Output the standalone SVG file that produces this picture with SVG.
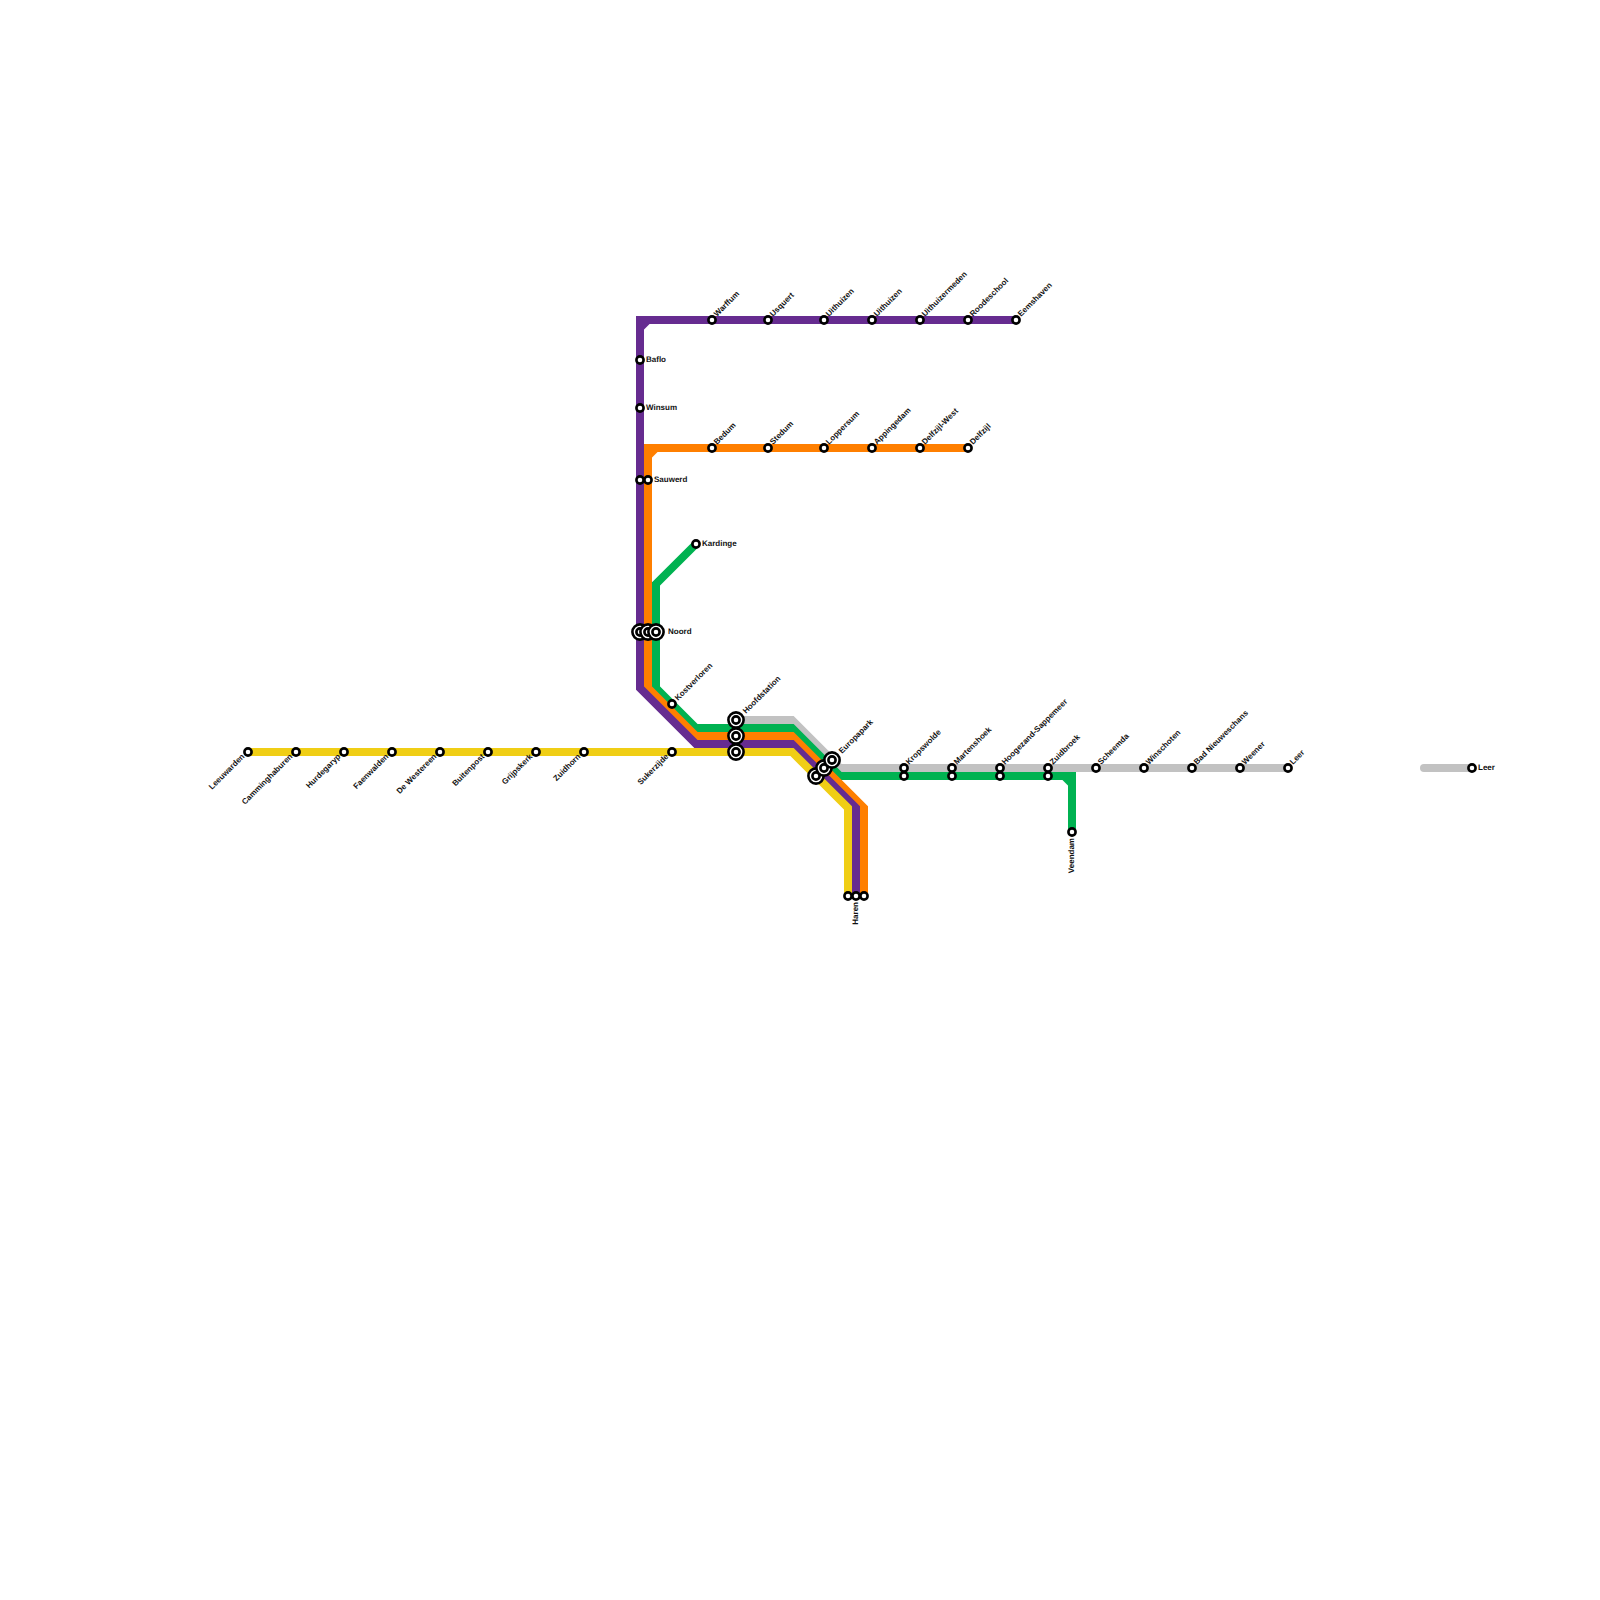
<svg xmlns="http://www.w3.org/2000/svg" width="1600" height="1600" viewBox="0 0 1600 1600">
<defs><style>
.l{fill:none;stroke-width:8;stroke-linejoin:miter;stroke-linecap:butt}
.r{stroke-linecap:round}
.grey{stroke:#c2c2c2}.green{stroke:#00b251}.orange{stroke:#ff7f00}.purple{stroke:#662c90}.yellow{stroke:#f0ce15}
.s{fill:#fff;stroke:#000;stroke-width:2.6}
.t{font-family:"Liberation Sans",Arial,sans-serif;font-size:8px;font-weight:700;fill:#111;text-rendering:geometricPrecision}
.e{text-anchor:end}
</style>
<g id="st"><circle class="s" r="3.6"/></g>
<g id="ix"><circle class="s" r="7.6"/><circle class="s" r="3.6"/></g>
</defs>
<rect width="1600" height="1600" fill="#fff"/>
<g id="connectors">
<path class="l r grey" d="M736 720H792L840 768H1288"/>
<path class="l r grey" d="M1424 768H1472"/>
<path class="l green" d="M696 544L656 584V688L696 728H792L840 776H1072V832"/>
<path class="l green" d="M1064 776L1072 784"/>
<path class="l orange" d="M648 456L656 448"/>
<path class="l orange" d="M968 448H648V688L696 736H792L864 808V896"/>
<path class="l purple" d="M648 320L640 328"/>
<path class="l purple" d="M1016 320H640V688L696 744H792L856 808V896"/>
<path class="l yellow" d="M248 752H792L848 808V896"/>
</g>
<g id="n-leeuwarden"><use href="#st" x="248" y="752"/><text class="t e" transform="translate(245 757) rotate(-45)">Leeuwarden</text></g>
<g id="n-camminghaburen"><use href="#st" x="296" y="752"/><text class="t e" transform="translate(293 757) rotate(-45)">Camminghaburen</text></g>
<g id="n-hurdegaryp"><use href="#st" x="344" y="752"/><text class="t e" transform="translate(341 757) rotate(-45)">Hurdegaryp</text></g>
<g id="n-feanwalden"><use href="#st" x="392" y="752"/><text class="t e" transform="translate(389 757) rotate(-45)">Faenwalden</text></g>
<g id="n-de-westereen"><use href="#st" x="440" y="752"/><text class="t e" transform="translate(437 757) rotate(-45)">De Westereen</text></g>
<g id="n-buitenpost"><use href="#st" x="488" y="752"/><text class="t e" transform="translate(485 757) rotate(-45)">Buitenpost</text></g>
<g id="n-grijpskerk"><use href="#st" x="536" y="752"/><text class="t e" transform="translate(533 757) rotate(-45)">Grijpskerk</text></g>
<g id="n-zuidhorn"><use href="#st" x="584" y="752"/><text class="t e" transform="translate(581 757) rotate(-45)">Zuidhorn</text></g>
<g id="n-sukerzijde"><use href="#st" x="672" y="752"/><text class="t e" transform="translate(669 757) rotate(-45)">Sukerzijde</text></g>
<g id="n-baflo"><use href="#st" x="640" y="360"/><text class="t" x="646" y="362">Baflo</text></g>
<g id="n-winsum"><use href="#st" x="640" y="408"/><text class="t" x="646" y="410">Winsum</text></g>
<g id="n-sauwerd"><use href="#st" x="640" y="480"/><use href="#st" x="648" y="480"/><text class="t" x="654" y="482">Sauwerd</text></g>
<g id="n-kardinge"><use href="#st" x="696" y="544"/><text class="t" x="702" y="546">Kardinge</text></g>
<g id="n-noord"><use href="#ix" x="640" y="632"/><use href="#ix" x="648" y="632"/><use href="#ix" x="656" y="632"/><text class="t" x="668" y="634">Noord</text></g>
<g id="n-kostverloren"><use href="#st" x="672" y="704"/><text class="t" transform="translate(678 701) rotate(-45)">Kostverloren</text></g>
<g id="n-hoofdstation"><use href="#ix" x="736" y="720"/><use href="#ix" x="736" y="736"/><use href="#ix" x="736" y="752"/><text class="t" transform="translate(746 714) rotate(-45)">Hoofdstation</text></g>
<g id="n-europapark"><use href="#ix" x="816" y="776"/><use href="#ix" x="824" y="768"/><use href="#ix" x="832" y="760"/><text class="t" transform="translate(842 754) rotate(-45)">Europapark</text></g>
<g id="n-haren"><use href="#st" x="848" y="896"/><use href="#st" x="856" y="896"/><use href="#st" x="864" y="896"/><text class="t e" transform="translate(858 902) rotate(-90)">Haren</text></g>
<g id="n-veendam"><use href="#st" x="1072" y="832"/><text class="t e" transform="translate(1074 838) rotate(-90)">Veendam</text></g>
<g id="n-warffum"><use href="#st" x="712" y="320"/><text class="t" transform="translate(717 317) rotate(-45)">Warffum</text></g>
<g id="n-usquert"><use href="#st" x="768" y="320"/><text class="t" transform="translate(773 317) rotate(-45)">Usquert</text></g>
<g id="n-uithuizen"><use href="#st" x="824" y="320"/><text class="t" transform="translate(829 317) rotate(-45)">Uithuizen</text></g>
<g id="n-uithuizen2"><use href="#st" x="872" y="320"/><text class="t" transform="translate(877 317) rotate(-45)">Uithuizen</text></g>
<g id="n-uithuizermeeden"><use href="#st" x="920" y="320"/><text class="t" transform="translate(925 317) rotate(-45)">Uithuizermeden</text></g>
<g id="n-roodeschool"><use href="#st" x="968" y="320"/><text class="t" transform="translate(973 317) rotate(-45)">Roodeschool</text></g>
<g id="n-eemshaven"><use href="#st" x="1016" y="320"/><text class="t" transform="translate(1021 317) rotate(-45)">Eemshaven</text></g>
<g id="n-bedum"><use href="#st" x="712" y="448"/><text class="t" transform="translate(717 445) rotate(-45)">Bedum</text></g>
<g id="n-stedum"><use href="#st" x="768" y="448"/><text class="t" transform="translate(773 445) rotate(-45)">Stedum</text></g>
<g id="n-loppersum"><use href="#st" x="824" y="448"/><text class="t" transform="translate(829 445) rotate(-45)">Loppersum</text></g>
<g id="n-appingedam"><use href="#st" x="872" y="448"/><text class="t" transform="translate(877 445) rotate(-45)">Appingedam</text></g>
<g id="n-delfzijl-west"><use href="#st" x="920" y="448"/><text class="t" transform="translate(925 445) rotate(-45)">Delfzijl-West</text></g>
<g id="n-delfzijl"><use href="#st" x="968" y="448"/><text class="t" transform="translate(973 445) rotate(-45)">Delfzijl</text></g>
<g id="n-kropswolde"><use href="#st" x="904" y="768"/><use href="#st" x="904" y="776"/><text class="t" transform="translate(909 765) rotate(-45)">Kropswolde</text></g>
<g id="n-martenshoek"><use href="#st" x="952" y="768"/><use href="#st" x="952" y="776"/><text class="t" transform="translate(957 765) rotate(-45)">Martenshoek</text></g>
<g id="n-hoogezand"><use href="#st" x="1000" y="768"/><use href="#st" x="1000" y="776"/><text class="t" transform="translate(1005 765) rotate(-45)">Hoogezand-Sappemeer</text></g>
<g id="n-zuidbroek"><use href="#st" x="1048" y="768"/><use href="#st" x="1048" y="776"/><text class="t" transform="translate(1053 765) rotate(-45)">Zuidbroek</text></g>
<g id="n-scheemda"><use href="#st" x="1096" y="768"/><text class="t" transform="translate(1101 765) rotate(-45)">Scheemda</text></g>
<g id="n-winschoten"><use href="#st" x="1144" y="768"/><text class="t" transform="translate(1149 765) rotate(-45)">Winschoten</text></g>
<g id="n-bad-nieuweschans"><use href="#st" x="1192" y="768"/><text class="t" transform="translate(1197 765) rotate(-45)">Bad Nieuweschans</text></g>
<g id="n-weener"><use href="#st" x="1240" y="768"/><text class="t" transform="translate(1245 765) rotate(-45)">Weener</text></g>
<g id="n-leer"><use href="#st" x="1288" y="768"/><text class="t" transform="translate(1293 765) rotate(-45)">Leer</text></g>
<g id="n-leer2"><use href="#st" x="1472" y="768"/><text class="t" x="1478" y="770">Leer</text></g>
</svg>
